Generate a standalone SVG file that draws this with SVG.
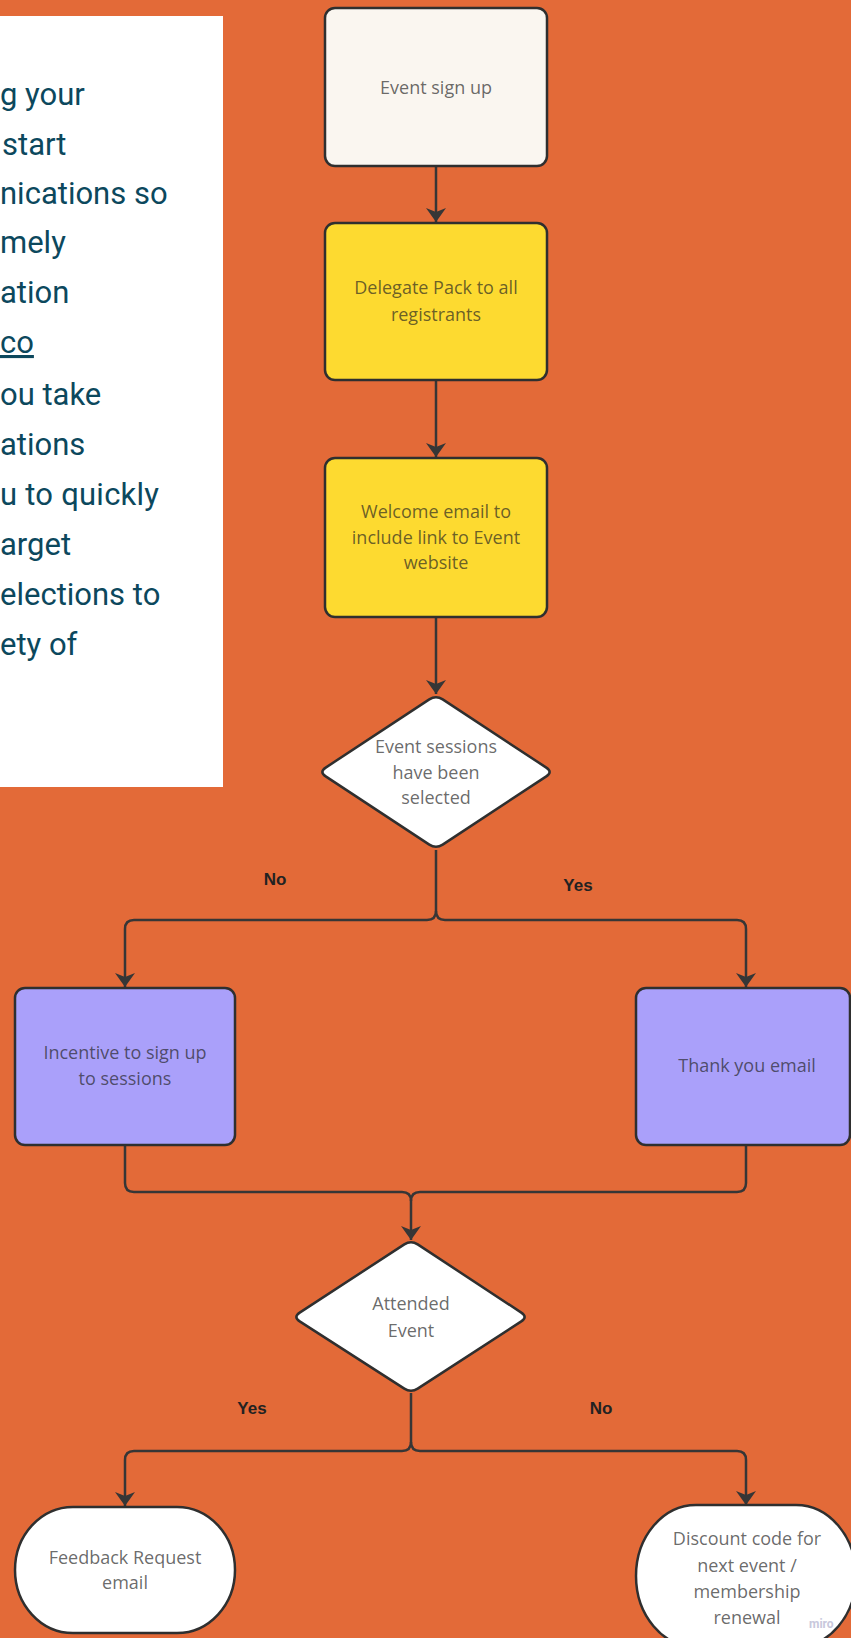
<svg xmlns="http://www.w3.org/2000/svg" width="851" height="1638" viewBox="0 0 851 1638">
<style>
.panel{font-family:Roboto,"Liberation Sans",sans-serif;font-size:31px;fill:#0c485d}
.box{stroke:#2f2f2f;stroke-width:2.5;stroke-linejoin:round}
.t{font-family:"Open Sans","Liberation Sans",sans-serif;font-size:18px;fill:#222;fill-opacity:0.68;text-anchor:middle}
.lbl{font-family:"Liberation Sans",Arial,sans-serif;font-size:17px;font-weight:bold;fill:#222;text-anchor:middle}
.c{fill:none;stroke:#363636;stroke-width:2.5}
</style>
<defs>
<marker id="ah" markerUnits="userSpaceOnUse" markerWidth="14" markerHeight="20" viewBox="0 0 14 20" refX="14" refY="10" orient="auto">
<path d="M0,0 L14,10 L0,20 L4,10 z" fill="#363636"/>
</marker>
</defs>
<rect width="851" height="1638" fill="#e36a38"/>
<g id="textpanel">
<rect x="-2" y="16" width="225" height="771" fill="#ffffff"/>
<text class="panel" x="0" y="105">g your</text>
<text class="panel" x="2" y="155">start</text>
<text class="panel" x="0" y="204">nications so</text>
<text class="panel" x="0" y="253">mely</text>
<text class="panel" x="0" y="303">ation</text>
<text class="panel" x="0" y="353" text-decoration="underline">co</text>
<text class="panel" x="0" y="405">ou take</text>
<text class="panel" x="0" y="455">ations</text>
<text class="panel" x="0" y="505" textLength="159" lengthAdjust="spacing">u to quickly</text>
<text class="panel" x="0" y="555">arget</text>
<text class="panel" x="0" y="605">elections to</text>
<text class="panel" x="0" y="655">ety of</text>
</g>
<g id="connectors">
<path class="c" d="M436,166 V222" marker-end="url(#ah)"/>
<path class="c" d="M436,380 V457" marker-end="url(#ah)"/>
<path class="c" d="M436,617 V694" marker-end="url(#ah)"/>
<path class="c" d="M436,850 V911 Q436,920 427,920 H134 Q125,920 125,929 V987" marker-end="url(#ah)"/>
<path class="c" d="M436,911 Q436,920 445,920 H737 Q746,920 746,929 V987" marker-end="url(#ah)"/>
<path class="c" d="M125,1145 V1183 Q125,1192 134,1192 H402 Q411,1192 411,1201 V1240" marker-end="url(#ah)"/>
<path class="c" d="M746,1145 V1183 Q746,1192 737,1192 H420 Q411,1192 411,1201"/>
<path class="c" d="M411,1393 V1442 Q411,1451 402,1451 H134 Q125,1451 125,1460 V1506" marker-end="url(#ah)"/>
<path class="c" d="M411,1442 Q411,1451 420,1451 H737 Q746,1451 746,1460 V1505" marker-end="url(#ah)"/>
<text class="lbl" x="275" y="885">No</text>
<text class="lbl" x="578" y="891">Yes</text>
<text class="lbl" x="252" y="1414">Yes</text>
<text class="lbl" x="601" y="1414">No</text>
</g>
<g id="n-signup">
<rect class="box" x="325" y="8" width="222" height="158" rx="10" fill="#faf6f0"/>
<text class="t" x="436" y="94">Event sign up</text>
</g>
<g id="n-delegate">
<rect class="box" x="325" y="223" width="222" height="157" rx="10" fill="#fdda30"/>
<text class="t" x="436" y="294">Delegate Pack to all</text>
<text class="t" x="436" y="321">registrants</text>
</g>
<g id="n-welcome">
<rect class="box" x="325" y="458" width="222" height="159" rx="10" fill="#fdda30"/>
<text class="t" x="436" y="518">Welcome email to</text>
<text class="t" x="436" y="544">include link to Event</text>
<text class="t" x="436" y="569">website</text>
</g>
<g id="n-sessions">
<path class="box" d="M442.7,699.4 L546.3,767.6 Q553,772 546.3,776.4 L442.7,844.6 Q436,849 429.3,844.6 L325.7,776.4 Q319,772 325.7,767.6 L429.3,699.4 Q436,695 442.7,699.4 Z" fill="#ffffff"/>
<text class="t" x="436" y="753">Event sessions</text>
<text class="t" x="436" y="779">have been</text>
<text class="t" x="436" y="804">selected</text>
</g>
<g id="n-incentive">
<rect class="box" x="15" y="988" width="220" height="157" rx="10" fill="#aaa0fa"/>
<text class="t" x="125" y="1059">Incentive to sign up</text>
<text class="t" x="125" y="1085">to sessions</text>
</g>
<g id="n-thankyou">
<rect class="box" x="636" y="988" width="214" height="157" rx="10" fill="#aaa0fa"/>
<text class="t" x="747" y="1072">Thank you email</text>
</g>
<g id="n-attended">
<path class="box" d="M417.7,1244.4 L521.3,1312.6 Q528,1317 521.3,1321.4 L417.7,1388.6 Q411,1393 404.3,1388.6 L299.7,1321.4 Q293,1317 299.7,1312.6 L404.3,1244.4 Q411,1240 417.7,1244.4 Z" fill="#ffffff"/>
<text class="t" x="411" y="1310">Attended</text>
<text class="t" x="411" y="1337">Event</text>
</g>
<g id="n-feedback">
<rect class="box" x="15" y="1507" width="220" height="126" rx="58" ry="63" fill="#ffffff"/>
<text class="t" x="125" y="1564">Feedback Request</text>
<text class="t" x="125" y="1589">email</text>
</g>
<g id="n-discount">
<rect class="box" x="636" y="1505" width="220" height="142" rx="60" ry="71" fill="#ffffff"/>
<text class="t" x="747" y="1545">Discount code for</text>
<text class="t" x="747" y="1572">next event /</text>
<text class="t" x="747" y="1598">membership</text>
<text class="t" x="747" y="1624">renewal</text>
<text x="809" y="1628" font-family="Roboto,'Liberation Sans',sans-serif" font-size="12" font-weight="bold" fill="#c8c8dc">miro</text>
</g>
</svg>
